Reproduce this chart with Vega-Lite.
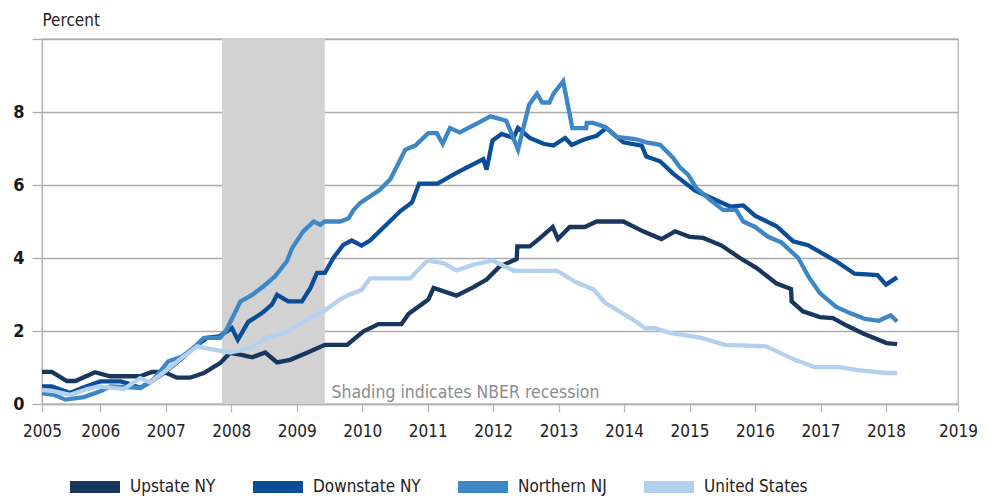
{
  "$schema": "https://vega.github.io/schema/vega-lite/v6.json",
  "width": 916,
  "height": 365,
  "autosize": "none",
  "padding": {"left": 42, "top": 39, "right": 35, "bottom": 94},
  "background": "white",
  "config": {
    "font": "DejaVu Sans Condensed",
    "view": {"stroke": "#b4b4b4", "strokeWidth": 1.3},
    "axis": {"labelFont": "DejaVu Sans Condensed", "titleFont": "DejaVu Sans Condensed"}
  },
  "datasets": {
    "recession": [{"start": 2007.86, "end": 2009.43}],
    "series": [
      {"s": "Upstate NY", "t": 2005.11, "v": 0.88},
      {"s": "Upstate NY", "t": 2005.26, "v": 0.88},
      {"s": "Upstate NY", "t": 2005.49, "v": 0.63},
      {"s": "Upstate NY", "t": 2005.62, "v": 0.63},
      {"s": "Upstate NY", "t": 2005.92, "v": 0.87},
      {"s": "Upstate NY", "t": 2006.15, "v": 0.76},
      {"s": "Upstate NY", "t": 2006.61, "v": 0.76},
      {"s": "Upstate NY", "t": 2006.79, "v": 0.88},
      {"s": "Upstate NY", "t": 2006.97, "v": 0.88},
      {"s": "Upstate NY", "t": 2007.17, "v": 0.72},
      {"s": "Upstate NY", "t": 2007.37, "v": 0.72},
      {"s": "Upstate NY", "t": 2007.58, "v": 0.85},
      {"s": "Upstate NY", "t": 2007.83, "v": 1.12},
      {"s": "Upstate NY", "t": 2007.98, "v": 1.40},
      {"s": "Upstate NY", "t": 2008.14, "v": 1.35},
      {"s": "Upstate NY", "t": 2008.32, "v": 1.28},
      {"s": "Upstate NY", "t": 2008.52, "v": 1.41},
      {"s": "Upstate NY", "t": 2008.70, "v": 1.14},
      {"s": "Upstate NY", "t": 2008.90, "v": 1.21},
      {"s": "Upstate NY", "t": 2009.15, "v": 1.40},
      {"s": "Upstate NY", "t": 2009.43, "v": 1.62},
      {"s": "Upstate NY", "t": 2009.77, "v": 1.62},
      {"s": "Upstate NY", "t": 2010.02, "v": 1.99},
      {"s": "Upstate NY", "t": 2010.25, "v": 2.19},
      {"s": "Upstate NY", "t": 2010.60, "v": 2.19},
      {"s": "Upstate NY", "t": 2010.71, "v": 2.47},
      {"s": "Upstate NY", "t": 2011.01, "v": 2.86},
      {"s": "Upstate NY", "t": 2011.09, "v": 3.18},
      {"s": "Upstate NY", "t": 2011.44, "v": 2.97},
      {"s": "Upstate NY", "t": 2011.70, "v": 3.20},
      {"s": "Upstate NY", "t": 2011.90, "v": 3.41},
      {"s": "Upstate NY", "t": 2012.10, "v": 3.77},
      {"s": "Upstate NY", "t": 2012.36, "v": 3.97},
      {"s": "Upstate NY", "t": 2012.37, "v": 4.32},
      {"s": "Upstate NY", "t": 2012.56, "v": 4.32},
      {"s": "Upstate NY", "t": 2012.72, "v": 4.55},
      {"s": "Upstate NY", "t": 2012.91, "v": 4.85},
      {"s": "Upstate NY", "t": 2012.99, "v": 4.52},
      {"s": "Upstate NY", "t": 2013.17, "v": 4.85},
      {"s": "Upstate NY", "t": 2013.40, "v": 4.85},
      {"s": "Upstate NY", "t": 2013.58, "v": 5.00},
      {"s": "Upstate NY", "t": 2013.99, "v": 5.00},
      {"s": "Upstate NY", "t": 2014.29, "v": 4.73},
      {"s": "Upstate NY", "t": 2014.57, "v": 4.52},
      {"s": "Upstate NY", "t": 2014.78, "v": 4.73},
      {"s": "Upstate NY", "t": 2015.00, "v": 4.58},
      {"s": "Upstate NY", "t": 2015.21, "v": 4.55},
      {"s": "Upstate NY", "t": 2015.49, "v": 4.34},
      {"s": "Upstate NY", "t": 2015.77, "v": 4.00},
      {"s": "Upstate NY", "t": 2016.02, "v": 3.73},
      {"s": "Upstate NY", "t": 2016.33, "v": 3.30},
      {"s": "Upstate NY", "t": 2016.55, "v": 3.15},
      {"s": "Upstate NY", "t": 2016.56, "v": 2.81},
      {"s": "Upstate NY", "t": 2016.73, "v": 2.54},
      {"s": "Upstate NY", "t": 2016.99, "v": 2.38},
      {"s": "Upstate NY", "t": 2017.19, "v": 2.35},
      {"s": "Upstate NY", "t": 2017.40, "v": 2.15},
      {"s": "Upstate NY", "t": 2017.65, "v": 1.93},
      {"s": "Upstate NY", "t": 2018.01, "v": 1.67},
      {"s": "Upstate NY", "t": 2018.17, "v": 1.64},
      {"s": "Downstate NY", "t": 2005.11, "v": 0.48},
      {"s": "Downstate NY", "t": 2005.26, "v": 0.48},
      {"s": "Downstate NY", "t": 2005.54, "v": 0.30},
      {"s": "Downstate NY", "t": 2005.75, "v": 0.46},
      {"s": "Downstate NY", "t": 2006.00, "v": 0.62},
      {"s": "Downstate NY", "t": 2006.31, "v": 0.62},
      {"s": "Downstate NY", "t": 2006.48, "v": 0.53},
      {"s": "Downstate NY", "t": 2006.61, "v": 0.44},
      {"s": "Downstate NY", "t": 2006.76, "v": 0.59},
      {"s": "Downstate NY", "t": 2006.97, "v": 0.85},
      {"s": "Downstate NY", "t": 2007.22, "v": 1.21},
      {"s": "Downstate NY", "t": 2007.48, "v": 1.62},
      {"s": "Downstate NY", "t": 2007.63, "v": 1.81},
      {"s": "Downstate NY", "t": 2007.81, "v": 1.85},
      {"s": "Downstate NY", "t": 2008.01, "v": 2.08},
      {"s": "Downstate NY", "t": 2008.10, "v": 1.76},
      {"s": "Downstate NY", "t": 2008.26, "v": 2.25},
      {"s": "Downstate NY", "t": 2008.47, "v": 2.49},
      {"s": "Downstate NY", "t": 2008.62, "v": 2.72},
      {"s": "Downstate NY", "t": 2008.70, "v": 2.99},
      {"s": "Downstate NY", "t": 2008.87, "v": 2.81},
      {"s": "Downstate NY", "t": 2009.08, "v": 2.81},
      {"s": "Downstate NY", "t": 2009.21, "v": 3.18},
      {"s": "Downstate NY", "t": 2009.31, "v": 3.59},
      {"s": "Downstate NY", "t": 2009.43, "v": 3.59},
      {"s": "Downstate NY", "t": 2009.56, "v": 4.00},
      {"s": "Downstate NY", "t": 2009.71, "v": 4.36},
      {"s": "Downstate NY", "t": 2009.84, "v": 4.48},
      {"s": "Downstate NY", "t": 2009.99, "v": 4.34},
      {"s": "Downstate NY", "t": 2010.12, "v": 4.48},
      {"s": "Downstate NY", "t": 2010.58, "v": 5.28},
      {"s": "Downstate NY", "t": 2010.76, "v": 5.52},
      {"s": "Downstate NY", "t": 2010.87, "v": 6.04},
      {"s": "Downstate NY", "t": 2011.15, "v": 6.04},
      {"s": "Downstate NY", "t": 2011.44, "v": 6.33},
      {"s": "Downstate NY", "t": 2011.85, "v": 6.71},
      {"s": "Downstate NY", "t": 2011.90, "v": 6.42},
      {"s": "Downstate NY", "t": 2011.99, "v": 7.22},
      {"s": "Downstate NY", "t": 2012.13, "v": 7.40},
      {"s": "Downstate NY", "t": 2012.31, "v": 7.29},
      {"s": "Downstate NY", "t": 2012.38, "v": 7.56},
      {"s": "Downstate NY", "t": 2012.56, "v": 7.29},
      {"s": "Downstate NY", "t": 2012.77, "v": 7.13},
      {"s": "Downstate NY", "t": 2012.92, "v": 7.08},
      {"s": "Downstate NY", "t": 2013.10, "v": 7.29},
      {"s": "Downstate NY", "t": 2013.20, "v": 7.10},
      {"s": "Downstate NY", "t": 2013.38, "v": 7.24},
      {"s": "Downstate NY", "t": 2013.58, "v": 7.35},
      {"s": "Downstate NY", "t": 2013.73, "v": 7.56},
      {"s": "Downstate NY", "t": 2013.99, "v": 7.17},
      {"s": "Downstate NY", "t": 2014.27, "v": 7.08},
      {"s": "Downstate NY", "t": 2014.34, "v": 6.78},
      {"s": "Downstate NY", "t": 2014.55, "v": 6.65},
      {"s": "Downstate NY", "t": 2014.75, "v": 6.31},
      {"s": "Downstate NY", "t": 2015.08, "v": 5.85},
      {"s": "Downstate NY", "t": 2015.62, "v": 5.41},
      {"s": "Downstate NY", "t": 2015.82, "v": 5.44},
      {"s": "Downstate NY", "t": 2016.00, "v": 5.16},
      {"s": "Downstate NY", "t": 2016.33, "v": 4.87},
      {"s": "Downstate NY", "t": 2016.58, "v": 4.46},
      {"s": "Downstate NY", "t": 2016.81, "v": 4.35},
      {"s": "Downstate NY", "t": 2017.24, "v": 3.91},
      {"s": "Downstate NY", "t": 2017.52, "v": 3.57},
      {"s": "Downstate NY", "t": 2017.87, "v": 3.53},
      {"s": "Downstate NY", "t": 2018.00, "v": 3.27},
      {"s": "Downstate NY", "t": 2018.17, "v": 3.47},
      {"s": "Northern NJ", "t": 2005.11, "v": 0.30},
      {"s": "Northern NJ", "t": 2005.29, "v": 0.25},
      {"s": "Northern NJ", "t": 2005.47, "v": 0.12},
      {"s": "Northern NJ", "t": 2005.75, "v": 0.19},
      {"s": "Northern NJ", "t": 2006.00, "v": 0.35},
      {"s": "Northern NJ", "t": 2006.15, "v": 0.48},
      {"s": "Northern NJ", "t": 2006.41, "v": 0.46},
      {"s": "Northern NJ", "t": 2006.61, "v": 0.44},
      {"s": "Northern NJ", "t": 2006.81, "v": 0.67},
      {"s": "Northern NJ", "t": 2007.04, "v": 1.17},
      {"s": "Northern NJ", "t": 2007.25, "v": 1.30},
      {"s": "Northern NJ", "t": 2007.45, "v": 1.58},
      {"s": "Northern NJ", "t": 2007.58, "v": 1.81},
      {"s": "Northern NJ", "t": 2007.83, "v": 1.81},
      {"s": "Northern NJ", "t": 2007.93, "v": 2.04},
      {"s": "Northern NJ", "t": 2008.14, "v": 2.81},
      {"s": "Northern NJ", "t": 2008.32, "v": 2.99},
      {"s": "Northern NJ", "t": 2008.49, "v": 3.22},
      {"s": "Northern NJ", "t": 2008.67, "v": 3.50},
      {"s": "Northern NJ", "t": 2008.85, "v": 3.91},
      {"s": "Northern NJ", "t": 2008.93, "v": 4.27},
      {"s": "Northern NJ", "t": 2009.10, "v": 4.73},
      {"s": "Northern NJ", "t": 2009.26, "v": 5.00},
      {"s": "Northern NJ", "t": 2009.36, "v": 4.91},
      {"s": "Northern NJ", "t": 2009.43, "v": 5.00},
      {"s": "Northern NJ", "t": 2009.66, "v": 5.00},
      {"s": "Northern NJ", "t": 2009.79, "v": 5.08},
      {"s": "Northern NJ", "t": 2009.87, "v": 5.32},
      {"s": "Northern NJ", "t": 2009.97, "v": 5.51},
      {"s": "Northern NJ", "t": 2010.27, "v": 5.87},
      {"s": "Northern NJ", "t": 2010.43, "v": 6.16},
      {"s": "Northern NJ", "t": 2010.55, "v": 6.58},
      {"s": "Northern NJ", "t": 2010.66, "v": 6.97},
      {"s": "Northern NJ", "t": 2010.81, "v": 7.08},
      {"s": "Northern NJ", "t": 2011.01, "v": 7.42},
      {"s": "Northern NJ", "t": 2011.14, "v": 7.42},
      {"s": "Northern NJ", "t": 2011.23, "v": 7.13},
      {"s": "Northern NJ", "t": 2011.34, "v": 7.56},
      {"s": "Northern NJ", "t": 2011.49, "v": 7.44},
      {"s": "Northern NJ", "t": 2011.75, "v": 7.68},
      {"s": "Northern NJ", "t": 2011.96, "v": 7.88},
      {"s": "Northern NJ", "t": 2012.20, "v": 7.76},
      {"s": "Northern NJ", "t": 2012.38, "v": 6.97},
      {"s": "Northern NJ", "t": 2012.55, "v": 8.20},
      {"s": "Northern NJ", "t": 2012.67, "v": 8.50},
      {"s": "Northern NJ", "t": 2012.75, "v": 8.26},
      {"s": "Northern NJ", "t": 2012.86, "v": 8.26},
      {"s": "Northern NJ", "t": 2012.92, "v": 8.50},
      {"s": "Northern NJ", "t": 2013.07, "v": 8.84},
      {"s": "Northern NJ", "t": 2013.21, "v": 7.56},
      {"s": "Northern NJ", "t": 2013.42, "v": 7.56},
      {"s": "Northern NJ", "t": 2013.43, "v": 7.70},
      {"s": "Northern NJ", "t": 2013.53, "v": 7.70},
      {"s": "Northern NJ", "t": 2013.71, "v": 7.59},
      {"s": "Northern NJ", "t": 2013.88, "v": 7.32},
      {"s": "Northern NJ", "t": 2014.17, "v": 7.26},
      {"s": "Northern NJ", "t": 2014.34, "v": 7.17},
      {"s": "Northern NJ", "t": 2014.55, "v": 7.10},
      {"s": "Northern NJ", "t": 2014.75, "v": 6.74},
      {"s": "Northern NJ", "t": 2014.85, "v": 6.49},
      {"s": "Northern NJ", "t": 2014.98, "v": 6.28},
      {"s": "Northern NJ", "t": 2015.10, "v": 5.92},
      {"s": "Northern NJ", "t": 2015.31, "v": 5.60},
      {"s": "Northern NJ", "t": 2015.51, "v": 5.32},
      {"s": "Northern NJ", "t": 2015.71, "v": 5.32},
      {"s": "Northern NJ", "t": 2015.82, "v": 5.00},
      {"s": "Northern NJ", "t": 2016.00, "v": 4.85},
      {"s": "Northern NJ", "t": 2016.20, "v": 4.58},
      {"s": "Northern NJ", "t": 2016.40, "v": 4.43},
      {"s": "Northern NJ", "t": 2016.66, "v": 4.00},
      {"s": "Northern NJ", "t": 2016.83, "v": 3.45},
      {"s": "Northern NJ", "t": 2016.99, "v": 3.04},
      {"s": "Northern NJ", "t": 2017.24, "v": 2.66},
      {"s": "Northern NJ", "t": 2017.45, "v": 2.49},
      {"s": "Northern NJ", "t": 2017.68, "v": 2.33},
      {"s": "Northern NJ", "t": 2017.89, "v": 2.28},
      {"s": "Northern NJ", "t": 2018.07, "v": 2.43},
      {"s": "Northern NJ", "t": 2018.17, "v": 2.26},
      {"s": "United States", "t": 2005.11, "v": 0.39},
      {"s": "United States", "t": 2005.29, "v": 0.35},
      {"s": "United States", "t": 2005.54, "v": 0.25},
      {"s": "United States", "t": 2005.80, "v": 0.41},
      {"s": "United States", "t": 2005.97, "v": 0.48},
      {"s": "United States", "t": 2006.36, "v": 0.41},
      {"s": "United States", "t": 2006.61, "v": 0.71},
      {"s": "United States", "t": 2006.76, "v": 0.59},
      {"s": "United States", "t": 2007.02, "v": 0.94},
      {"s": "United States", "t": 2007.22, "v": 1.23},
      {"s": "United States", "t": 2007.48, "v": 1.58},
      {"s": "United States", "t": 2007.73, "v": 1.49},
      {"s": "United States", "t": 2007.98, "v": 1.41},
      {"s": "United States", "t": 2008.29, "v": 1.53},
      {"s": "United States", "t": 2008.54, "v": 1.81},
      {"s": "United States", "t": 2008.87, "v": 1.99},
      {"s": "United States", "t": 2009.10, "v": 2.26},
      {"s": "United States", "t": 2009.41, "v": 2.54},
      {"s": "United States", "t": 2009.66, "v": 2.86},
      {"s": "United States", "t": 2009.79, "v": 2.99},
      {"s": "United States", "t": 2009.99, "v": 3.12},
      {"s": "United States", "t": 2010.12, "v": 3.44},
      {"s": "United States", "t": 2010.73, "v": 3.44},
      {"s": "United States", "t": 2011.00, "v": 3.93},
      {"s": "United States", "t": 2011.24, "v": 3.86},
      {"s": "United States", "t": 2011.44, "v": 3.66},
      {"s": "United States", "t": 2011.72, "v": 3.83},
      {"s": "United States", "t": 2011.99, "v": 3.93},
      {"s": "United States", "t": 2012.32, "v": 3.65},
      {"s": "United States", "t": 2012.98, "v": 3.65},
      {"s": "United States", "t": 2013.26, "v": 3.34},
      {"s": "United States", "t": 2013.53, "v": 3.14},
      {"s": "United States", "t": 2013.71, "v": 2.77},
      {"s": "United States", "t": 2014.14, "v": 2.31},
      {"s": "United States", "t": 2014.32, "v": 2.08},
      {"s": "United States", "t": 2014.47, "v": 2.08},
      {"s": "United States", "t": 2014.70, "v": 1.95},
      {"s": "United States", "t": 2015.18, "v": 1.81},
      {"s": "United States", "t": 2015.54, "v": 1.62},
      {"s": "United States", "t": 2016.17, "v": 1.58},
      {"s": "United States", "t": 2016.61, "v": 1.21},
      {"s": "United States", "t": 2016.91, "v": 1.01},
      {"s": "United States", "t": 2017.29, "v": 1.01},
      {"s": "United States", "t": 2017.60, "v": 0.92},
      {"s": "United States", "t": 2018.01, "v": 0.85},
      {"s": "United States", "t": 2018.17, "v": 0.85}
    ]
  },
  "layer": [
    {
      "data": {"name": "recession"},
      "mark": {"type": "rect", "color": "#d3d2d3"},
      "encoding": {
        "x": {"field": "start", "type": "quantitative", "scale": {"domain": [2005.11, 2019.1], "nice": false, "zero": false},
          "axis": {
            "title": null,
            "values": [2005.11, 2006, 2007, 2008, 2009, 2010, 2011, 2012, 2013, 2014, 2015, 2016, 2017, 2018, 2019.1],
            "labelExpr": "'' + floor(datum.value)",
            "grid": false,
            "domainColor": "#b4b4b4",
            "domainWidth": 1.3,
            "tickColor": "#b4b4b4",
            "tickSize": 8,
            "tickWidth": 1.2,
            "labelFontSize": 17,
            "labelColor": "#222222",
            "labelPadding": 11,
            "labelFlush": false,
            "labelOverlap": false
          }
        },
        "x2": {"field": "end"}
      }
    },
    {
      "data": {"values": [{}]},
      "mark": {"type": "text", "text": "Shading indicates NBER recession", "align": "left", "baseline": "alphabetic", "fontSize": 17.5, "color": "#8c8c8c", "font": "DejaVu Sans Condensed"},
      "encoding": {
        "x": {"datum": 2009.53, "type": "quantitative"},
        "y": {"datum": 0.17, "type": "quantitative"}
      }
    },
    {
      "data": {"name": "series"},
      "mark": {"type": "line", "strokeWidth": 4.3},
      "encoding": {
        "x": {"field": "t", "type": "quantitative"},
        "y": {"field": "v", "type": "quantitative", "scale": {"domain": [0, 10], "nice": false},
          "axis": {
            "title": "Percent",
            "titleAngle": 0,
            "titleAlign": "left",
            "titleBaseline": "alphabetic",
            "titleX": 0,
            "titleY": -14,
            "titleFontSize": 17,
            "titleFontWeight": "normal",
            "titleColor": "#222222",
            "values": [0, 2, 4, 6, 8, 10],
            "labelExpr": "datum.value == 10 ? '' : datum.label",
            "labelFontSize": 18,
            "labelFontWeight": "bold",
            "labelColor": "#1a1a1a",
            "labelPadding": 8,
            "grid": true,
            "gridColor": "#ababab",
            "gridWidth": 1.3,
            "domainColor": "#b4b4b4",
            "domainWidth": 1.3,
            "tickColor": "#ababab",
            "tickSize": 10,
            "tickWidth": 1.3
          }
        },
        "color": {
          "field": "s",
          "type": "nominal",
          "sort": ["Upstate NY", "Downstate NY", "Northern NJ", "United States"],
          "scale": {"domain": ["Upstate NY", "Downstate NY", "Northern NJ", "United States"], "range": ["#17375e", "#0b4d96", "#3d87c7", "#b3d1ef"]},
          "legend": {
            "title": null,
            "orient": "none",
            "legendX": 28,
            "legendY": 423,
            "direction": "horizontal",
            "symbolType": "M-1,-0.24H1V0.24H-1Z",
            "symbolSize": 2500,
            "symbolStrokeWidth": 0,
            "symbolOpacity": 1,
            "labelFontSize": 17,
            "labelColor": "#222222",
            "labelFont": "DejaVu Sans Condensed",
            "labelOffset": 10,
            "columnPadding": 37,
            "labelLimit": 300,
            "encode": {
              "symbols": {"update": {"fill": {"scale": "color", "field": "value"}, "strokeWidth": {"value": 0}, "opacity": {"value": 1}}}
            }
          }
        }
      }
    }
  ]
}
